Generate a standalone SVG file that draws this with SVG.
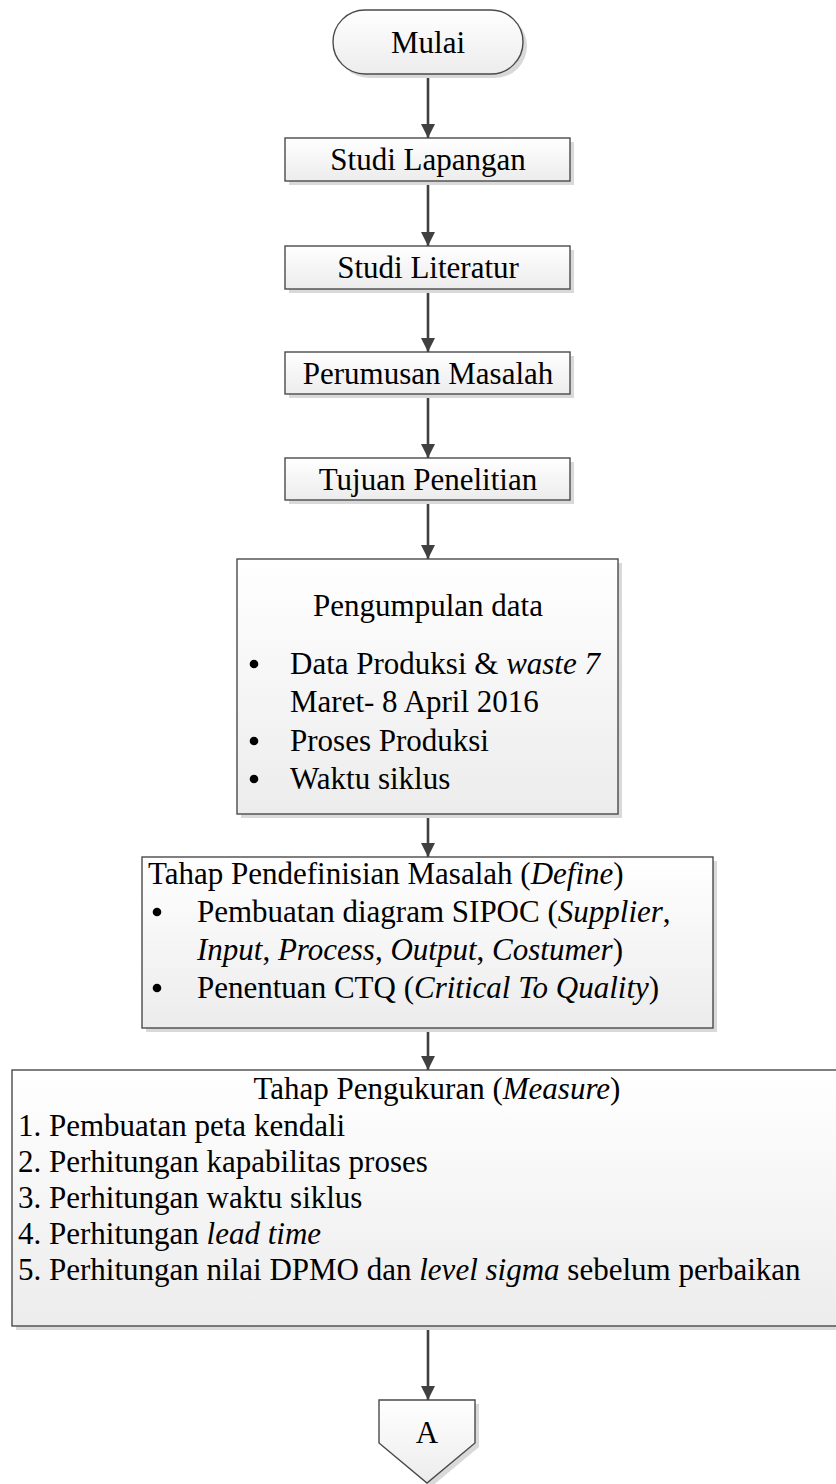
<svg xmlns="http://www.w3.org/2000/svg" width="836" height="1484" viewBox="0 0 836 1484">
  <style>
    .box { fill: url(#boxFill); stroke: #4a4a4a; stroke-width: 1.4; }
    .shadow { fill: #d9d9d9; }
    .t { font-family: "Liberation Serif", "Times New Roman", serif; font-size: 31px; fill: #000; }
    .c { text-anchor: middle; }
    .i { font-style: italic; }
    .dot { fill: #000; }
    .flow { stroke: #404040; stroke-width: 2.6; fill: none; marker-end: url(#arrow); }
  </style>
  <defs>
    <linearGradient id="boxFill" x1="0" y1="0" x2="0" y2="1">
      <stop offset="0" stop-color="#ffffff"/>
      <stop offset="1" stop-color="#ececec"/>
    </linearGradient>
    <marker id="arrow" markerWidth="16" markerHeight="16" refX="14" refY="7" orient="auto" markerUnits="userSpaceOnUse">
      <path d="M0,0 L14,7 L0,14 Z" fill="#404040"/>
    </marker>
  </defs>

  <rect width="836" height="1484" fill="#ffffff"/>

  <!-- connectors -->
  <g id="connectors">
    <line class="flow" x1="428" y1="74" x2="428" y2="138"/>
    <line class="flow" x1="428" y1="181" x2="428" y2="246"/>
    <line class="flow" x1="428" y1="289" x2="428" y2="352"/>
    <line class="flow" x1="428" y1="394" x2="428" y2="458"/>
    <line class="flow" x1="428" y1="500" x2="428" y2="559"/>
    <line class="flow" x1="428" y1="814" x2="428" y2="857"/>
    <line class="flow" x1="428" y1="1028" x2="428" y2="1070"/>
    <line class="flow" x1="428" y1="1326" x2="428" y2="1400"/>
  </g>

  <!-- start terminator -->
  <g id="mulai">
    <rect class="shadow" x="337" y="14" width="190" height="64" rx="32"/>
    <rect class="box" x="333" y="10" width="190" height="64" rx="32"/>
    <text class="t c" x="428" y="53">Mulai</text>
  </g>

  <g id="studi-lapangan">
    <rect class="shadow" x="289" y="142" width="285" height="43"/>
    <rect class="box" x="285" y="138" width="285" height="43"/>
    <text class="t c" x="428" y="170">Studi Lapangan</text>
  </g>

  <g id="studi-literatur">
    <rect class="shadow" x="289" y="250" width="285" height="43"/>
    <rect class="box" x="285" y="246" width="285" height="43"/>
    <text class="t c" x="428" y="278">Studi Literatur</text>
  </g>

  <g id="perumusan-masalah">
    <rect class="shadow" x="289" y="356" width="285" height="42"/>
    <rect class="box" x="285" y="352" width="285" height="42"/>
    <text class="t c" x="428" y="384">Perumusan Masalah</text>
  </g>

  <g id="tujuan-penelitian">
    <rect class="shadow" x="289" y="462" width="285" height="42"/>
    <rect class="box" x="285" y="458" width="285" height="42"/>
    <text class="t c" x="428" y="490">Tujuan Penelitian</text>
  </g>

  <g id="pengumpulan-data">
    <rect class="shadow" x="241" y="563" width="381" height="255"/>
    <rect class="box" x="237" y="559" width="381" height="255"/>
    <text class="t c" x="428" y="616">Pengumpulan data</text>
    <circle class="dot" cx="254" cy="664" r="4.3"/>
    <text class="t" x="290" y="674">Data Produksi &amp; <tspan class="i">waste 7</tspan></text>
    <text class="t" x="290" y="712">Maret- 8 April 2016</text>
    <circle class="dot" cx="254" cy="741" r="4.3"/>
    <text class="t" x="290" y="751">Proses Produksi</text>
    <circle class="dot" cx="254" cy="779" r="4.3"/>
    <text class="t" x="290" y="789">Waktu siklus</text>
  </g>

  <g id="define">
    <rect class="shadow" x="146" y="861" width="571" height="171"/>
    <rect class="box" x="142" y="857" width="571" height="171"/>
    <text class="t" x="148" y="884">Tahap Pendefinisian Masalah (<tspan class="i">Define</tspan>)</text>
    <circle class="dot" cx="157" cy="912" r="4.3"/>
    <text class="t" x="197" y="922">Pembuatan diagram SIPOC (<tspan class="i">Supplier</tspan>,</text>
    <text class="t" x="197" y="960"><tspan class="i">Input</tspan>, <tspan class="i">Process</tspan>, <tspan class="i">Output</tspan>, <tspan class="i">Costumer</tspan>)</text>
    <circle class="dot" cx="157" cy="988" r="4.3"/>
    <text class="t" x="197" y="998">Penentuan CTQ (<tspan class="i">Critical To Quality</tspan>)</text>
  </g>

  <g id="measure">
    <rect class="shadow" x="16" y="1074" width="850" height="256"/>
    <rect class="box" x="12" y="1070" width="850" height="256"/>
    <text class="t c" x="437" y="1099">Tahap Pengukuran (<tspan class="i">Measure</tspan>)</text>
    <text class="t" x="18" y="1136">1. Pembuatan peta kendali</text>
    <text class="t" x="18" y="1172">2. Perhitungan kapabilitas proses</text>
    <text class="t" x="18" y="1208">3. Perhitungan waktu siklus</text>
    <text class="t" x="18" y="1244">4. Perhitungan <tspan class="i">lead time</tspan></text>
    <text class="t" x="18" y="1280">5. Perhitungan nilai DPMO dan <tspan class="i">level sigma</tspan> sebelum perbaikan</text>
  </g>

  <!-- off-page connector -->
  <g id="connector-a">
    <polygon class="shadow" points="383,1404 479,1404 479,1447 431,1487 383,1447"/>
    <polygon class="box" points="379,1400 475,1400 475,1443 427,1483 379,1443"/>
    <text class="t c" x="427" y="1443">A</text>
  </g>
</svg>
